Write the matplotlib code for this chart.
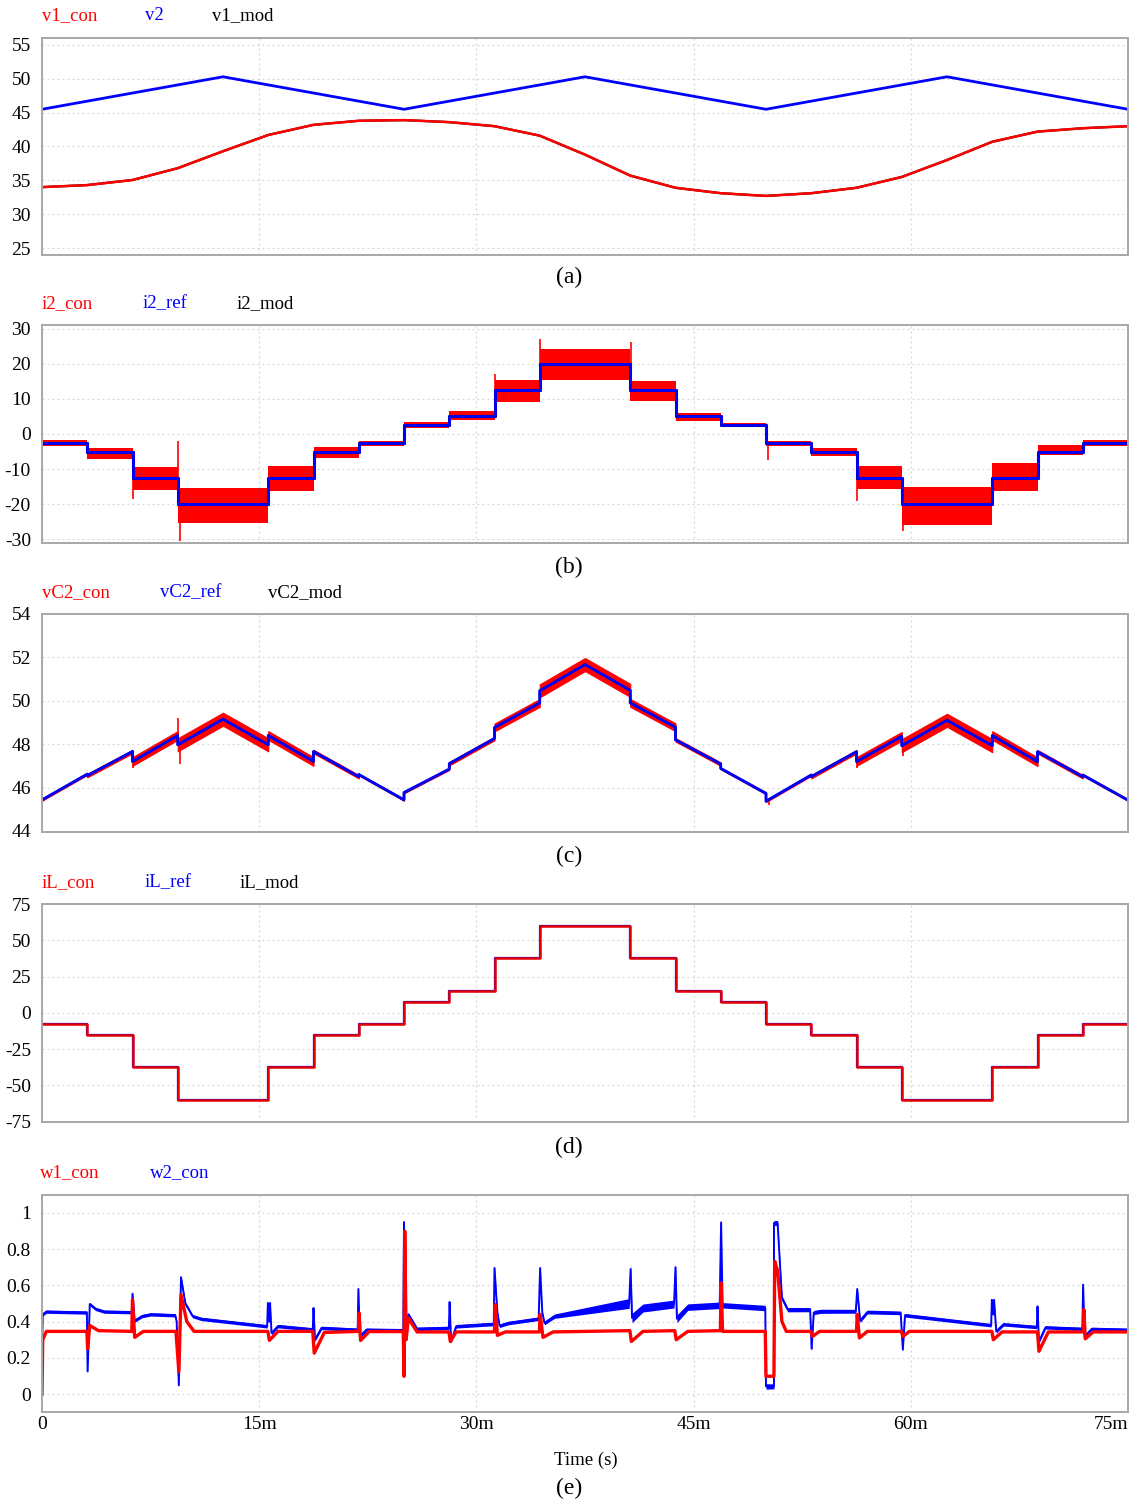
import matplotlib.pyplot as plt
import numpy as np

plt.rcParams['font.family'] = ['Liberation Serif', 'DejaVu Serif']
plt.rcParams['axes.unicode_minus'] = False

RED = '#ff0000'
BLUE = '#0000ff'
GRID = '#d6d6d6'

# time in ms
t_edges = [0, 3.125, 6.25, 9.375, 15.625, 18.75, 21.875, 25, 28.125, 31.25, 34.375,
           40.625, 43.75, 46.875, 50, 53.125, 56.25, 59.375, 65.625, 68.75, 71.875, 75]

# (a) voltages
v1_t = np.linspace(0, 75, 25)
v1_con = [34.0, 34.3, 35.05, 36.8, 39.3, 41.7, 43.2, 43.8, 43.9, 43.6, 43.0, 41.6, 38.8,
          35.7, 33.9, 33.1, 32.7, 33.1, 33.9, 35.5, 38.0, 40.7, 42.2, 42.7, 43.0]
v2_t = [0, 12.5, 25, 37.5, 50, 62.5, 75]
v2 = [45.5, 50.3, 45.5, 50.3, 45.5, 50.3, 45.5]

# (b) i2 reference steps and ripple band of i2_con
i2_ref = [-2.5, -5, -12.5, -20, -12.5, -5, -2.5, 2.5, 5, 12.5, 20, 12.5, 5, 2.5,
          -2.5, -5, -12.5, -20, -12.5, -5, -2.5]
i2_lo = [-3.5, -7.0, -16.0, -25.5, -16.2, -6.8, -3.3, 1.6, 4.0, 9.2, 15.3, 9.5, 3.7, 2.1,
         -3.3, -6.3, -15.8, -26.0, -16.3, -6.0, -3.4]
i2_hi = [-1.8, -4.0, -9.5, -15.3, -9.2, -3.8, -1.9, 3.5, 6.5, 15.5, 24.3, 15.2, 5.9, 3.1,
         -1.9, -4.0, -9.2, -15.0, -8.2, -3.2, -1.7]
i2_spike_t = [6.3, 9.4, 9.5, 31.3, 34.4, 40.65, 50.15, 56.3, 59.45]
i2_spike_v = [-18.5, -2.0, -30.5, 17.2, 27.2, 26.2, -7.3, -19.2, -27.8]

# (c) capacitor voltage
vc2_t = [0, 3.125, 3.125, 6.25, 6.25, 9.375, 9.375, 12.5, 15.625, 15.625, 18.75, 18.75,
         21.875, 21.875, 25, 25, 28.125, 28.125, 31.25, 31.25, 34.375, 34.375, 37.5,
         40.625, 40.625, 43.75, 43.75, 46.875, 46.875, 50, 50, 53.125, 53.125, 56.25, 56.25,
         59.375, 59.375, 62.5, 65.625, 65.625, 68.75, 68.75, 71.875, 71.875, 75]
vc2_ref = [45.43, 46.62, 46.55, 47.66, 47.2, 48.4, 47.97, 49.15, 47.97, 48.4, 47.2, 47.66,
           46.5, 46.6, 45.43, 45.77, 46.85, 47.1, 48.26, 48.77, 49.9, 50.46, 51.67,
           50.48, 49.9, 48.78, 48.2, 47.08, 46.88, 45.73, 45.37, 46.58, 46.5, 47.65, 47.2,
           48.36, 47.93, 49.1, 47.93, 48.4, 47.19, 47.65, 46.5, 46.58, 45.42]
vc2_half = [0.04, 0.04, 0.08, 0.08, 0.2, 0.2, 0.3, 0.3, 0.3, 0.2, 0.2, 0.08,
            0.08, 0.04, 0.04, 0.04, 0.04, 0.08, 0.08, 0.18, 0.18, 0.3, 0.3,
            0.3, 0.18, 0.18, 0.08, 0.08, 0.04, 0.04, 0.04, 0.04, 0.08, 0.08, 0.2,
            0.2, 0.3, 0.3, 0.3, 0.2, 0.2, 0.08, 0.08, 0.04, 0.04]
vc2_spike_t = [6.3, 9.4, 9.5, 50.2, 56.3, 59.45]
vc2_spike_v = [46.9, 49.2, 47.1, 45.2, 46.9, 47.45]

# (d) inductor current
iL_ref = [-7.5, -15, -37.5, -60, -37.5, -15, -7.5, 7.5, 15, 37.5, 60, 37.5, 15, 7.5,
          -7.5, -15, -37.5, -60, -37.5, -15, -7.5]

# (e) duty ratios
w2_t = [0, 0.05, 0.3,
        3.1, 3.15, 3.3, 3.7, 4.3,
        6.2, 6.25, 6.4, 6.9, 7.5,
        9.2, 9.3, 9.45, 9.6, 9.9, 10.4, 11.0,
        15.55, 15.6, 15.7, 15.75, 15.85, 16.3,
        18.7, 18.75, 18.85, 19.3,
        21.8, 21.85, 21.95, 22.4,
        24.95, 25.0, 25.1, 25.3, 25.9,
        28.1, 28.15, 28.25, 28.6,
        31.2, 31.25, 31.45, 31.6, 32.2,
        34.3, 34.4, 34.55, 34.7, 35.4,
        40.55, 40.65, 40.75, 41.5,
        43.65, 43.75, 43.85, 44.6,
        46.8, 46.9, 47.0,
        49.95, 50.0, 50.55, 50.55, 50.8, 51.1, 51.5,
        53.05, 53.15, 53.3, 53.8,
        56.2, 56.3, 56.5, 57.0,
        59.3, 59.45, 59.6,
        65.55, 65.6, 65.7, 65.75, 65.9, 66.4,
        68.7, 68.75, 68.85, 69.3,
        71.85, 71.9, 72.0, 72.5,
        75]
w2_con = [0.20, 0.44, 0.455,
          0.450, 0.125, 0.497, 0.47, 0.455,
          0.452, 0.554, 0.405, 0.43, 0.44,
          0.435, 0.40, 0.048, 0.645, 0.50, 0.43, 0.415,
          0.374, 0.503, 0.40, 0.503, 0.337, 0.375,
          0.357, 0.475, 0.30, 0.365,
          0.355, 0.58, 0.318, 0.355,
          0.352, 0.95, 0.30, 0.44, 0.36,
          0.365, 0.508, 0.29, 0.374,
          0.387, 0.696, 0.45, 0.377, 0.392,
          0.416, 0.696, 0.45, 0.392, 0.43,
          0.50, 0.69, 0.42, 0.475,
          0.497, 0.70, 0.416, 0.48,
          0.49, 0.948, 0.49,
          0.475, 0.042, 0.042, 0.945, 0.945, 0.53, 0.466,
          0.466, 0.25, 0.45, 0.457,
          0.457, 0.58, 0.405, 0.453,
          0.448, 0.245, 0.435,
          0.38, 0.52, 0.44, 0.52, 0.346, 0.385,
          0.37, 0.484, 0.29, 0.368,
          0.36, 0.604, 0.318, 0.36,
          0.355]
w2_band_t = [0, 34.7, 40.55, 41.5, 43.65, 44.6, 46.8, 47.0, 49.95, 51.5, 59.3, 75]
w2_band_h = [0.009, 0.01, 0.027, 0.022, 0.022, 0.018, 0.018, 0.015, 0.015, 0.012, 0.01, 0.009]

w1_t = [0, 0.05, 0.3,
        3.1, 3.15, 3.3, 3.9,
        6.2, 6.25, 6.4, 7.0,
        9.25, 9.45, 9.6, 10.0, 10.5,
        15.6, 15.7, 16.3,
        18.7, 18.8, 19.5,
        21.85, 21.9, 22.0, 22.6,
        24.95, 25.0, 25.05, 25.15, 25.3, 25.9,
        28.1, 28.2, 28.6,
        31.25, 31.3, 31.45, 32.0,
        34.35, 34.4, 34.6, 35.3,
        40.6, 40.7, 41.5,
        43.7, 43.8, 44.6,
        46.85, 46.9, 47.0,
        49.95, 50.0, 50.55, 50.6, 50.8, 51.1, 51.4,
        53.1, 53.2, 53.7,
        56.25, 56.3, 56.45, 57.0,
        59.35, 59.45, 59.9,
        65.6, 65.7, 66.3,
        68.75, 68.85, 69.5,
        71.9, 71.95, 72.05, 72.6,
        75]
w1_con = [0.0, 0.30, 0.346,
          0.346, 0.25, 0.379, 0.35,
          0.346, 0.52, 0.313, 0.346,
          0.346, 0.125, 0.549, 0.40, 0.346,
          0.346, 0.296, 0.346,
          0.346, 0.226, 0.34,
          0.346, 0.447, 0.296, 0.345,
          0.345, 0.098, 0.90, 0.30, 0.42, 0.343,
          0.343, 0.29, 0.343,
          0.343, 0.494, 0.324, 0.343,
          0.343, 0.44, 0.313, 0.343,
          0.35, 0.29, 0.346,
          0.35, 0.30, 0.346,
          0.35, 0.613, 0.346,
          0.346, 0.098, 0.098, 0.733, 0.68, 0.40, 0.346,
          0.346, 0.318, 0.346,
          0.346, 0.44, 0.31, 0.346,
          0.346, 0.318, 0.346,
          0.346, 0.30, 0.343,
          0.343, 0.236, 0.343,
          0.343, 0.466, 0.305, 0.343,
          0.343]

W, H = 1135, 1501
fig = plt.figure(figsize=(W / 100, H / 100), dpi=100)


def panel(top, bottom, ylim, yticks, ylabels, xlabels=False):
    ax = fig.add_axes([42 / W, 1 - bottom / H, 1086 / W, (bottom - top) / H])
    ax.set_axisbelow(True)
    ax.set_xlim(0, 75)
    ax.set_ylim(*ylim)
    ax.set_xticks([0, 15, 30, 45, 60, 75])
    if xlabels:
        ax.set_xticklabels(['0', '15m', '30m', '45m', '60m', '75m'], fontsize=14)
        ax.get_xticklabels()[-1].set_horizontalalignment('right')
        ax.tick_params(axis='x', pad=3)
    else:
        ax.set_xticklabels([])
    ax.set_yticks(yticks)
    ax.set_yticklabels(ylabels, fontsize=14)
    ax.tick_params(length=0)
    ax.tick_params(axis='y', pad=8)
    ax.grid(True, linestyle=(0, (1.5, 2.5)), color=GRID, linewidth=0.9)
    for s in ax.spines.values():
        s.set_color('#a8a8a8')
        s.set_linewidth(1.4)
    return ax


def legend(y, items):
    for x, text, color in items:
        fig.text(x / W, 1 - y / H, text, color=color, fontsize=13.5, va='center', ha='left')


def sublabel(y, text):
    fig.text(569 / W, 1 - y / H, text, fontsize=17, ha='center', va='center')


# (a)
ax = panel(38, 255, (23.97, 56.03), [25, 30, 35, 40, 45, 50, 55],
           ['25', '30', '35', '40', '45', '50', '55'])
ax.plot(v2_t, v2, color=BLUE, lw=2)
ax.plot(v1_t, v1_con, color='black', lw=1.6)
ax.plot(v1_t, v1_con, color=RED, lw=1.8)
legend(16, [(42, 'v1_con', RED), (145, 'v2', BLUE), (212, 'v1_mod', 'black')])
sublabel(277, '(a)')

# (b)
ax = panel(325, 543, (-31.14, 31.14), [-30, -20, -10, 0, 10, 20, 30],
           ['-30', '-20', '-10', '0', '10', '20', '30'])
lo = np.append(i2_lo, i2_lo[-1])
hi = np.append(i2_hi, i2_hi[-1])
ax.fill_between(t_edges, lo, hi, step='post', color=RED, lw=0)
idx = np.searchsorted(t_edges, i2_spike_t, side='right') - 1
ax.vlines(i2_spike_t, np.array(i2_ref)[idx], i2_spike_v, color=RED, lw=1.2)
ax.step(t_edges, np.append(i2_ref, i2_ref[-1]), where='post', color='black', lw=2.2)
ax.step(t_edges, np.append(i2_ref, i2_ref[-1]), where='post', color=BLUE, lw=2)
legend(304, [(42, 'i2_con', RED), (143, 'i2_ref', BLUE), (237, 'i2_mod', 'black')])
sublabel(567, '(b)')

# (c)
ax = panel(614, 832, (43.95, 54), [44, 46, 48, 50, 52, 54],
           ['44', '46', '48', '50', '52', '54'])
ref = np.array(vc2_ref)
half = np.array(vc2_half)
ax.fill_between(vc2_t, ref - half, ref + half, color=RED, lw=0.8, edgecolor=RED)
idx = np.searchsorted(vc2_t, vc2_spike_t, side='right') - 1
ax.vlines(vc2_spike_t, ref[idx], vc2_spike_v, color=RED, lw=1.2)
ax.plot(vc2_t, vc2_ref, color='black', lw=1.6)
ax.plot(vc2_t, vc2_ref, color=BLUE, lw=2)
legend(593, [(42, 'vC2_con', RED), (160, 'vC2_ref', BLUE), (268, 'vC2_mod', 'black')])
sublabel(856, '(c)')

# (d)
ax = panel(904, 1122, (-75.3, 75), [-75, -50, -25, 0, 25, 50, 75],
           ['-75', '-50', '-25', '0', '25', '50', '75'])
iL = np.append(iL_ref, iL_ref[-1])
ax.step(t_edges, iL, where='post', color=BLUE, lw=1.6)
ax.step(t_edges, iL, where='post', color='black', lw=1.0)
ax.step(t_edges, iL, where='post', color=RED, lw=1.8, alpha=0.9)
legend(883, [(42, 'iL_con', RED), (145, 'iL_ref', BLUE), (240, 'iL_mod', 'black')])
sublabel(1147, '(d)')

# (e)
ax = panel(1195, 1412, (-0.0994, 1.0994), [0, 0.2, 0.4, 0.6, 0.8, 1],
           ['0', '0.2', '0.4', '0.6', '0.8', '1'], xlabels=True)
w2 = np.array(w2_con)
h = np.interp(w2_t, w2_band_t, w2_band_h)
ax.fill_between(w2_t, w2 - h, w2 + h, color=BLUE, lw=0)
ax.plot(w2_t, w2_con, color=BLUE, lw=1.4)
ax.plot(w1_t, w1_con, color=RED, lw=2.4)
legend(1173, [(40, 'w1_con', RED), (150, 'w2_con', BLUE)])
fig.text(586 / W, 1 - 1460 / H, 'Time (s)', fontsize=13.5, ha='center', va='center')
sublabel(1488, '(e)')

fig.savefig('out.png', dpi=100)
